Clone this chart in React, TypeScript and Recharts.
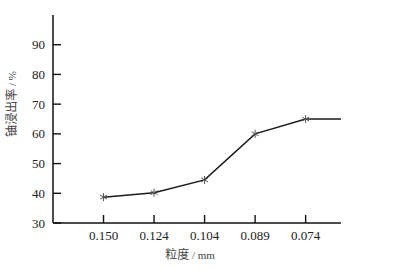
import React from 'react';
import { LineChart, Line, XAxis, YAxis, Label } from 'recharts';

// 粒度 categories (mm), left to right
const sizes = ['0.150', '0.124', '0.104', '0.089', '0.074'];
// 铀浸出率 (%)
const leachRate = [38.7, 40.2, 44.5, 60, 65];
// the curve runs on flat to the end of the axis
const tailRate = 65;

const yTicks = [30, 40, 50, 60, 70, 80, 90];
const xMin = -1;
const xMax = 4.7;

const data = [
    ...sizes.map((s, i) => ({ i, rate: leachRate[i], mark: true })),
    { i: xMax, rate: tailRate, mark: false },
];

const numFont = '"Liberation Serif", "DejaVu Serif", serif';
const cjkFont = '"Noto Sans CJK SC", sans-serif';

const XTick = (props: any) => {
    const { x, y, payload } = props;
    return (
        <g>
            <line x1={x} y1={y} x2={x} y2={y - 8} stroke="#111" strokeWidth={1.4} />
            <text x={x} y={y + 17} textAnchor="middle" fontSize={13} fontFamily={numFont} fill="#222">
                {sizes[payload.value]}
            </text>
        </g>
    );
};

const YTick = (props: any) => {
    const { x, y, payload } = props;
    return (
        <g>
            <line x1={x} y1={y} x2={x + 8} y2={y} stroke="#111" strokeWidth={1.4} />
            <text x={x - 8} y={y + 4.5} textAnchor="end" fontSize={13} fontFamily={numFont} fill="#222">
                {payload.value}
            </text>
        </g>
    );
};

const Star = (props: any) => {
    const { cx, cy, payload, index } = props;
    if (!payload.mark) return <g key={index} />;
    const r = 4;
    const dx = r * Math.cos(Math.PI / 6);
    const dy = r * Math.sin(Math.PI / 6);
    return (
        <g key={index} stroke="#555" strokeWidth={1}>
            <line x1={cx} y1={cy - r} x2={cx} y2={cy + r} />
            <line x1={cx - dx} y1={cy - dy} x2={cx + dx} y2={cy + dy} />
            <line x1={cx - dx} y1={cy + dy} x2={cx + dx} y2={cy - dy} />
        </g>
    );
};

export default function App() {
    return (
        <div style={{ position: 'absolute', left: 0, top: 0, width: 395, height: 269, background: '#fff' }}>
            <LineChart width={395} height={269} data={data} margin={{ top: 15, right: 54, left: 0, bottom: 0 }}>
                <XAxis
                    dataKey="i"
                    type="number"
                    domain={[xMin, xMax]}
                    ticks={[0, 1, 2, 3, 4]}
                    allowDataOverflow
                    height={46}
                    tickSize={0}
                    tickMargin={0}
                    tickLine={false}
                    tick={<XTick />}
                    axisLine={{ stroke: '#111', strokeWidth: 1.5 }}
                >
                    <Label
                        content={() => (
                            <text x={190} y={259} textAnchor="middle" fill="#444">
                                <tspan fontFamily={cjkFont} fontSize={12}>粒度</tspan>
                                <tspan fontFamily={numFont} fontSize={11}> / mm</tspan>
                            </text>
                        )}
                    />
                </XAxis>
                <YAxis
                    type="number"
                    domain={[30, 100]}
                    ticks={yTicks}
                    width={53}
                    tickSize={0}
                    tickMargin={0}
                    tickLine={false}
                    tick={<YTick />}
                    axisLine={{ stroke: '#111', strokeWidth: 1.5 }}
                >
                    <Label
                        content={() => (
                            <text transform="translate(16,104) rotate(-90)" textAnchor="middle" fill="#444">
                                <tspan fontFamily={cjkFont} fontSize={12}>铀浸出率</tspan>
                                <tspan fontFamily={numFont} fontSize={11}> / %</tspan>
                            </text>
                        )}
                    />
                </YAxis>
                <Line
                    type="linear"
                    dataKey="rate"
                    stroke="#1a1a1a"
                    strokeWidth={1.5}
                    dot={<Star />}
                    activeDot={false}
                    isAnimationActive={false}
                />
            </LineChart>
        </div>
    );
}
